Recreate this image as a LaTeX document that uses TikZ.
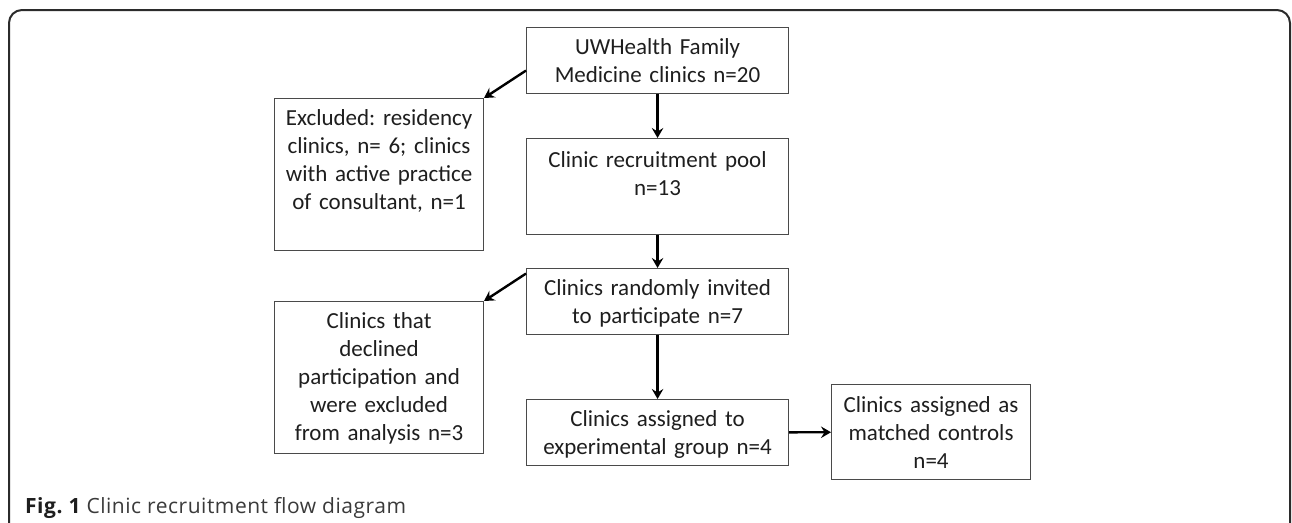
\documentclass[tikz,border=0pt]{standalone}
\usepackage{fontspec}
\setmainfont{Carlito}
\newfontfamily\capfont[LetterSpace=2.5]{Open Sans}
\usepackage{xcolor}
\usetikzlibrary{arrows.meta,positioning}
\definecolor{framegray}{HTML}{2B2B2B}
\definecolor{boxgray}{HTML}{4A4A4A}
\definecolor{inkgray}{HTML}{1E1E1E}
\definecolor{capgray}{HTML}{3A3A3A}
\frenchspacing

\begin{document}
\begin{tikzpicture}[x=1pt, y=-1pt,
    box/.style={draw=boxgray, line width=1.1pt, anchor=north west, align=center, inner xsep=3pt, inner ysep=0pt, text height=26.5pt, text depth=39.5pt, text=inkgray, font=\fontsize{23}{28.2}\selectfont},
    wide/.style={text width=256pt},
    narrow/.style={text width=203pt},
    flow/.style={-{Stealth[length=10pt,width=11.5pt,inset=3.5pt]}, line width=2.4pt, black}
]
\useasboundingbox (0,0) rectangle (1292,522);
\clip (0,0) rectangle (1292,522);
\draw[framegray, line width=2pt, rounded corners=13pt] (9,10) rectangle (1290,580);

\node[box, wide] (uwh) at (526,27) {UWHealth Family\\Medicine clinics n=20};
\node[box, narrow, text depth=125.5pt] (excl) at (274,98) {Excluded: residency\\clinics, n= 6; clinics\\with active practice\\of consultant, n=1};
\node[box, wide, text height=28.5pt, text depth=67.5pt] (pool) at (526,138) {Clinic recruitment pool\\n=13};
\node[box, wide] (invite) at (526,268) {Clinics randomly invited\\to participate n=7};
\node[box, narrow, text depth=125.5pt] (decl) at (274,301) {Clinics that\\declined\\participation and\\were excluded\\from analysis n=3};
\node[box, wide] (expt) at (526,399) {Clinics assigned to\\experimental group n=4};
\node[box, text width=193pt, text height=27.5pt, text depth=67.5pt] (ctrl) at (831,384) {Clinics assigned as\\matched controls\\n=4};

\node[anchor=base west, inner sep=0pt, font=\capfont\fontsize{21}{24}\selectfont, text=capgray] (cap) at (25,513) {\textbf{\color{inkgray}Fig. 1} Clinic recruitment flow diagram};

\draw[flow] (uwh) -- (pool);
\draw[flow] ([yshift=-10pt]uwh.west) -- (excl.north east);
\draw[flow] (pool) -- (invite);
\draw[flow] ([yshift=28pt]invite.west) -- (decl.north east);
\draw[flow] (invite) -- (expt);
\draw[flow] (expt) -- (ctrl);
\end{tikzpicture}
\end{document}
